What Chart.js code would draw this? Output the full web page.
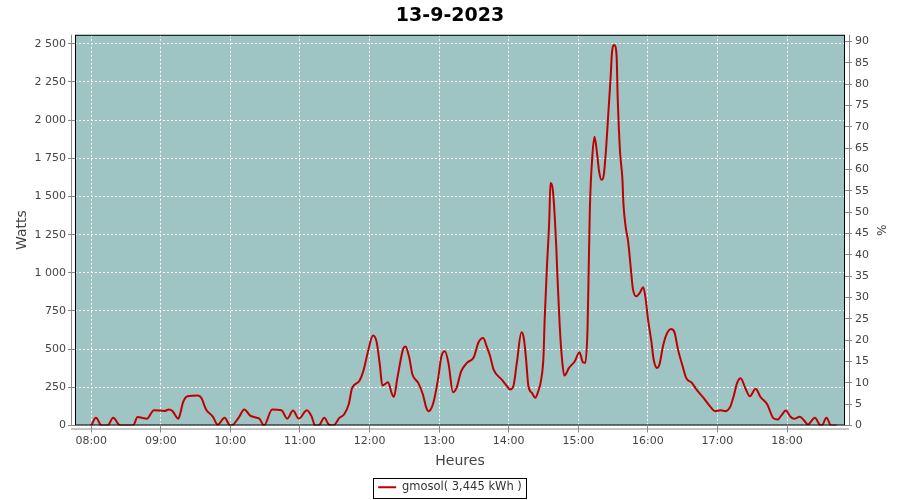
<!DOCTYPE html>
<html lang="fr">
<head>
    <meta charset="UTF-8">
    <title>13-9-2023</title>
    <script src="https://cdn.jsdelivr.net/npm/chart.js@4.4.0/dist/chart.umd.min.js"></script>
    <style>
        body { margin: 0; background: #fff; }
        canvas { display: block; }
    </style>
</head>
<body>
    <canvas id="chart" width="900" height="500"></canvas>

    <script>
        // données
        const times = [
            '08:00', '08:04', '08:09', '08:14', '08:19', '08:24', '08:27', '08:36', '08:40', '08:44',
            '08:48', '08:54', '09:03', '09:07', '09:10', '09:15', '09:17', '09:19', '09:23', '09:32',
            '09:35', '09:39', '09:45', '09:49', '09:55', '09:59', '10:01', '10:07', '10:12', '10:17',
            '10:23', '10:25', '10:29', '10:36', '10:44', '10:49', '10:54', '10:59', '11:06', '11:10',
            '11:13', '11:16', '11:21', '11:25', '11:29', '11:34', '11:38', '11:42', '11:45', '11:51',
            '11:55', '11:58', '12:03', '12:06', '12:09', '12:11', '12:16', '12:19', '12:21', '12:24',
            '12:29', '12:31', '12:34', '12:37', '12:42', '12:46', '12:49', '12:51', '12:55', '12:59',
            '13:02', '13:05', '13:08', '13:12', '13:15', '13:19', '13:24', '13:30', '13:34', '13:38',
            '13:41', '13:44', '13:47', '13:54', '13:59', '14:01', '14:04', '14:07', '14:11', '14:13',
            '14:15', '14:17', '14:20', '14:23', '14:25', '14:28', '14:30', '14:31', '14:33', '14:35',
            '14:36', '14:38', '14:41', '14:42', '14:44', '14:46', '14:48', '14:52', '14:57', '15:01',
            '15:04', '15:06', '15:08', '15:09', '15:10', '15:12', '15:14', '15:16', '15:18', '15:20',
            '15:22', '15:24', '15:26', '15:28', '15:29', '15:31', '15:33', '15:34', '15:36', '15:38',
            '15:39', '15:41', '15:43', '15:45', '15:47', '15:50', '15:53', '15:56', '15:58', '16:00',
            '16:03', '16:05', '16:08', '16:10', '16:13', '16:16', '16:20', '16:23', '16:26', '16:30',
            '16:33', '16:38', '16:42', '16:48', '16:54', '16:58', '17:03', '17:07', '17:11', '17:14',
            '17:17', '17:20', '17:24', '17:28', '17:33', '17:37', '17:43', '17:48', '17:52', '17:55',
            '17:59', '18:03', '18:06', '18:11', '18:14', '18:18', '18:24', '18:28', '18:30', '18:34',
            '18:38', '18:43'
        ];
        const watts = [
            0, 50, 0, 0, 50, 5, 0, 0, 55, 50,
            45, 100, 95, 105, 95, 45, 85, 148, 192, 196,
            180, 105, 57, 5, 50, 5, 0, 50, 105, 65,
            50, 45, 0, 105, 100, 45, 98, 45, 100, 60,
            0, 0, 50, 5, 0, 50, 72, 137, 246, 290,
            366, 464, 590, 551, 388, 262, 283, 214, 188, 312,
            502, 518, 453, 334, 279, 203, 116, 94, 148, 301,
            453, 486, 410, 218, 246, 355, 410, 449, 545, 573,
            518, 453, 366, 301, 253, 235, 257, 410, 610, 573,
            432, 257, 214, 181, 214, 301, 453, 693, 1042, 1348,
            1588, 1545, 1173, 977, 650, 432, 327, 377, 421, 480,
            414, 410, 639, 1031, 1424, 1751, 1892, 1794, 1663, 1609,
            1642, 1816, 2056, 2296, 2437, 2492, 2426, 2143, 1794, 1620,
            1445, 1293, 1205, 1053, 900, 846, 868, 905, 835, 704,
            551, 432, 377, 399, 518, 595, 632, 610, 497, 388,
            312, 279, 235, 181, 122, 94, 100, 94, 122, 192,
            279, 310, 246, 192, 240, 188, 137, 50, 39, 65,
            98, 57, 44, 57, 39, 7, 50, 7, 0, 50,
            0, 0
        ];
        const hourLabels = ['08:00', '09:00', '10:00', '11:00', '12:00', '13:00',
                            '14:00', '15:00', '16:00', '17:00', '18:00'];
        const wattTicks = [0, 250, 500, 750, 1000, 1250, 1500, 1750, 2000, 2250, 2500];
        const pctTicks = [0, 5, 10, 15, 20, 25, 30, 35, 40, 45, 50, 55, 60, 65, 70, 75, 80, 85, 90];
        const seriesLabel = 'gmosol( 3,445 kWh )';

        const plotBg = 'rgb(158,196,195)';
        const lineColor = 'rgb(192,0,0)';
        const axisGray = '#8a8a8a';
        const textGray = '#444444';

        // minutes depuis 08:00
        function toMin(t) {
            const [h, m] = t.split(':').map(Number);
            return (h - 8) * 60 + m;
        }
        function fmtMin(v) {
            const h = 8 + Math.floor(v / 60);
            const m = v % 60;
            return String(h).padStart(2, '0') + ':' + String(m).padStart(2, '0');
        }

        const points = times.map((t, i) => ({ x: toMin(t), y: watts[i] }));

        Chart.defaults.font.family = "'DejaVu Sans', sans-serif";
        Chart.defaults.color = textGray;

        // fond du graphique, cadre noir, axes gris décalés, cadre de la légende
        const plotFrame = {
            id: 'plotFrame',
            afterUpdate(chart) {
                // descendre un peu la légende
                const lg = chart.legend;
                const shift = 3;
                lg.top += shift;
                lg.bottom += shift;
                lg.legendHitBoxes.forEach(b => { b.top += shift; });
            },
            beforeDraw(chart) {
                const { ctx, chartArea: a } = chart;
                ctx.save();
                ctx.fillStyle = plotBg;
                ctx.fillRect(a.left, a.top, a.right - a.left, a.bottom - a.top);
                ctx.restore();
            },
            afterDraw(chart) {
                const { ctx, chartArea: a } = chart;
                ctx.save();
                ctx.strokeStyle = '#000';
                ctx.lineWidth = 1;
                ctx.strokeRect(a.left + 0.5, a.top + 0.5, a.right - a.left - 1, a.bottom - a.top - 1);

                ctx.strokeStyle = axisGray;
                ctx.beginPath();
                ctx.moveTo(a.left - 3.5, a.top);
                ctx.lineTo(a.left - 3.5, a.bottom);
                ctx.moveTo(a.right + 4.5, a.top);
                ctx.lineTo(a.right + 4.5, a.bottom);
                ctx.moveTo(a.left - 4, a.bottom + 3.5);
                ctx.lineTo(a.right + 4, a.bottom + 3.5);
                ctx.stroke();

                const box = chart.legend.legendHitBoxes[0];
                if (box) {
                    ctx.strokeStyle = '#000';
                    ctx.strokeRect(Math.round(box.left) - 4.5, Math.round(box.top) - 3.5,
                                   Math.round(box.width) + 9, Math.round(box.height) + 8);
                }
                ctx.restore();
            }
        };

        const ctx = document.getElementById('chart').getContext('2d');
        new Chart(ctx, {
            type: 'line',
            data: {
                datasets: [{
                    label: seriesLabel,
                    data: points,
                    borderColor: lineColor,
                    backgroundColor: lineColor,
                    borderWidth: 2,
                    pointRadius: 0,
                    cubicInterpolationMode: 'monotone',
                    yAxisID: 'y'
                }]
            },
            options: {
                responsive: false,
                animation: false,
                layout: { padding: { left: 0, right: 0, top: 0, bottom: 0 } },
                plugins: {
                    title: {
                        display: true,
                        text: '13-9-2023',
                        color: '#000',
                        font: { size: 19, weight: 'bold' },
                        padding: { top: 5, bottom: 7 }
                    },
                    legend: {
                        position: 'bottom',
                        labels: {
                            usePointStyle: true,
                            pointStyle: 'line',
                            pointStyleWidth: 18,
                            color: '#333',
                            font: { size: 11.5 },
                            padding: 1
                        }
                    },
                    tooltip: { enabled: false }
                },
                scales: {
                    x: {
                        type: 'linear',
                        min: -14,
                        max: 650,
                        afterBuildTicks: s => { s.ticks = hourLabels.map(l => ({ value: toMin(l) })); },
                        afterFit: s => { s.height = 52; },
                        ticks: {
                            callback: v => fmtMin(v),
                            font: { size: 11 },
                            color: textGray,
                            padding: 2,
                            maxRotation: 0
                        },
                        grid: { color: '#ffffff', tickColor: axisGray, tickLength: 7 },
                        border: { display: false, dash: [2, 2] },
                        title: { display: true, text: 'Heures', font: { size: 14 }, color: textGray,
                                 padding: { top: 2, bottom: 8 } }
                    },
                    y: {
                        position: 'left',
                        min: 0,
                        max: 2559,
                        afterBuildTicks: s => { s.ticks = wattTicks.map(v => ({ value: v })); },
                        afterFit: s => { s.width = 75; },
                        ticks: {
                            callback: v => String(v).replace(/\B(?=(\d{3})+(?!\d))/g, ' '),
                            font: { size: 11 },
                            color: textGray,
                            padding: 2
                        },
                        grid: { color: '#ffffff', tickColor: axisGray, tickLength: 7 },
                        border: { display: false, dash: [2, 2] },
                        title: { display: true, text: 'Watts', font: { size: 14 }, color: textGray,
                                 padding: { top: 14, bottom: 4 } }
                    },
                    y1: {
                        position: 'right',
                        min: 0,
                        max: 91.6,
                        afterBuildTicks: s => { s.ticks = pctTicks.map(v => ({ value: v })); },
                        afterFit: s => { s.width = 55; },
                        ticks: { font: { size: 11 }, color: textGray, padding: 3 },
                        grid: { drawOnChartArea: false, tickColor: axisGray, tickLength: 7 },
                        border: { display: false },
                        title: { display: true, text: '%', font: { size: 12 }, color: textGray,
                                 padding: { top: 13, bottom: 4 } }
                    }
                }
            },
            plugins: [plotFrame]
        });
    </script>
</body>
</html>
